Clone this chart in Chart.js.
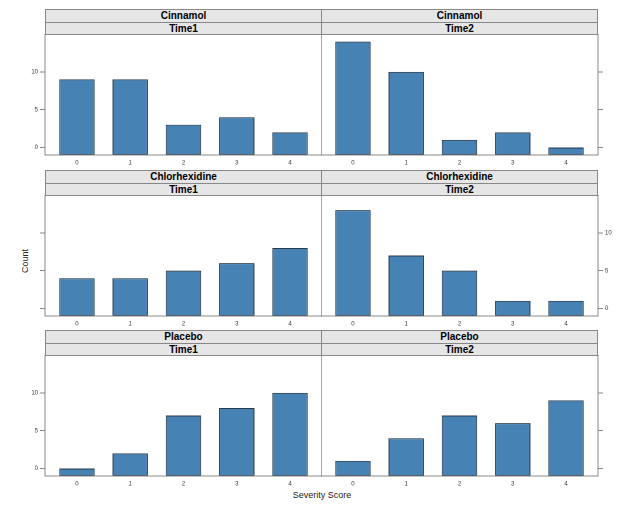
<!DOCTYPE html>
<html>
<head>
<meta charset="utf-8">
<script src="https://cdn.jsdelivr.net/npm/chart.js@4"></script>
<style>
  body { margin: 0; background: #fff; width: 619px; height: 511px; position: relative; overflow: hidden; }
  canvas, .strip, .lbl { position: absolute; }
  .strip {
    background: #e6e6e6; border: 1px solid #888; box-sizing: border-box;
    font: bold 10px "Liberation Sans Narrow", "Liberation Sans", Arial, sans-serif;
    color: #000; text-align: center;
  }
  .lbl { font: 9px "Liberation Sans Narrow", "Liberation Sans", Arial, sans-serif; color: #222; white-space: nowrap; }
</style>
</head>
<body>
<div class="lbl" style="left:292px;top:490px;width:60px;text-align:center;">Severity Score</div>
<div class="lbl" style="left:5px;top:256px;width:40px;text-align:center;transform:rotate(-90deg);">Count</div>
<script>
// categories (severity score) and counts per treatment / time
const scores = [0, 1, 2, 3, 4];
const treatments = ['Cinnamol', 'Chlorhexidine', 'Placebo'];
const times = ['Time1', 'Time2'];
const cinnamolTime1 = [9, 9, 3, 4, 2];
const cinnamolTime2 = [14, 10, 1, 2, 0];
const chlorTime1 = [4, 4, 5, 6, 8];
const chlorTime2 = [13, 7, 5, 1, 1];
const placeboTime1 = [0, 2, 7, 8, 10];
const placeboTime2 = [1, 4, 7, 6, 9];
const yTicks = [0, 5, 10];

const series = [
  [cinnamolTime1, cinnamolTime2],
  [chlorTime1, chlorTime2],
  [placeboTime1, placeboTime2]
];

// panel geometry (px)
const rowTop = [9, 170, 330];   // top of strips
const stripH = 12.5;
const panelH = 121.5;
const colLeft = [45, 321];
const panelW = 277;
const tickFont = { family: 'Liberation Sans Narrow, Liberation Sans, Arial', size: 6 };

const frame = {
  id: 'frame',
  afterDraw(chart) {
    const a = chart.chartArea, ctx = chart.ctx;
    ctx.save();
    ctx.strokeStyle = '#888';
    ctx.lineWidth = 1;
    ctx.strokeRect(a.left, a.top, a.right - a.left, a.bottom - a.top);
    ctx.restore();
  }
};

function makeStrip(text, left, top, w, h) {
  const d = document.createElement('div');
  d.className = 'strip';
  d.textContent = text;
  d.style.left = left + 'px';
  d.style.top = top + 'px';
  d.style.width = w + 'px';
  d.style.height = (h + 1) + 'px';
  d.style.lineHeight = (h - 1) + 'px';
  document.body.appendChild(d);
}

for (let r = 0; r < 3; r++) {
  for (let c = 0; c < 2; c++) {
    const top = rowTop[r];
    const left = colLeft[c];
    makeStrip(treatments[r], left, top, panelW, stripH);
    makeStrip(times[c], left, top + stripH, panelW, stripH);

    const pTop = top + 2 * stripH;
    const axisW = c === 0 ? 45 : 21;
    const canvasLeft = c === 0 ? 0 : left;
    const canvasW = panelW + axisW;
    const canvasH = panelH + 16;
    const cv = document.createElement('canvas');
    cv.style.left = canvasLeft + 'px';
    cv.style.top = pTop + 'px';
    cv.width = canvasW;
    cv.height = canvasH;
    document.body.appendChild(cv);

    // lattice alternates labels: left on rows 1 & 3, right on row 2
    const showLabels = (r === 1) === (c === 1);

    new Chart(cv, {
      type: 'bar',
      data: {
        datasets: [{
          data: scores.map((s, i) => ({ x: s, y: series[r][c][i] })),
          base: -1,
          backgroundColor: '#4682b4',
          borderColor: '#26394d',
          borderWidth: 1,
          borderSkipped: false,
          barPercentage: 0.665,
          categoryPercentage: 1
        }]
      },
      options: {
        responsive: false,
        devicePixelRatio: 2,
        animation: false,
        layout: { padding: 0 },
        plugins: { legend: { display: false }, tooltip: { enabled: false } },
        scales: {
          x: {
            type: 'linear',
            min: -0.6, max: 4.6,
            offset: false,
            afterBuildTicks: s => { s.ticks = scores.map(v => ({ value: v })); },
            afterFit: s => { s.height = 16; s.paddingLeft = 0; s.paddingRight = 0; },
            grid: { display: false, drawTicks: false },
            border: { display: false },
            ticks: { padding: 4, maxRotation: 0, color: '#333', font: tickFont }
          },
          y: {
            position: c === 0 ? 'left' : 'right',
            min: -1, max: 15,
            afterBuildTicks: s => { s.ticks = yTicks.map(v => ({ value: v })); },
            afterFit: s => { s.width = axisW; s.paddingTop = 0; s.paddingBottom = 0; },
            grid: { drawOnChartArea: false, drawTicks: true, tickLength: 5, color: '#888' },
            border: { display: false },
            ticks: { display: showLabels, padding: 2, color: '#333', font: tickFont }
          }
        }
      },
      plugins: [frame]
    });
  }
}
</script>
</body>
</html>
